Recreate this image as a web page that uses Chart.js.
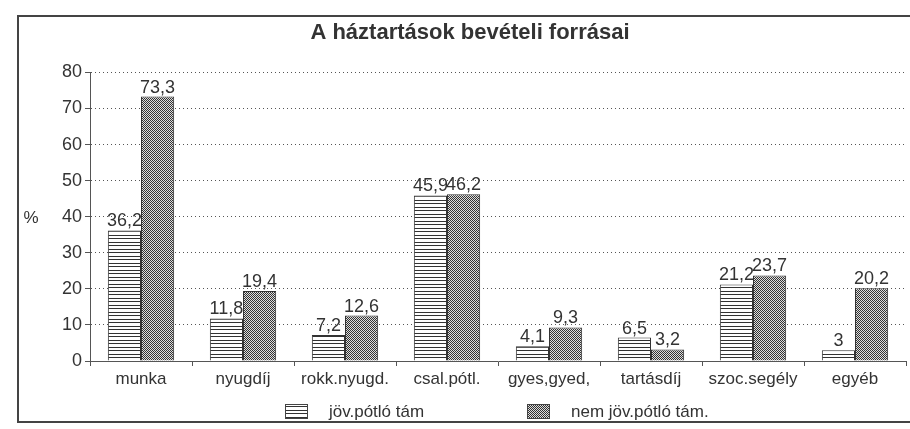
<!DOCTYPE html>
<html>
<head>
<meta charset="utf-8">
<script src="https://cdn.jsdelivr.net/npm/chart.js@4/dist/chart.umd.min.js"></script>
<style>
    body { margin: 0; background: #fff; overflow: hidden; }
    #keret { position: absolute; left: 17px; top: 15px; width: 960px; height: 404px; border: 2px solid #444; }
    canvas { position: absolute; left: 0; top: 0; }
</style>
</head>
<body>
<div id="keret"></div>
<canvas id="grafikon" width="910" height="429"></canvas>
<script>
// A háztartások bevételi forrásai (%)
var kategoriak = ['munka', 'nyugdíj', 'rokk.nyugd.', 'csal.pótl.', 'gyes,gyed,', 'tartásdíj', 'szoc.segély', 'egyéb'];
var jovPotlo = [36.2, 11.8, 7.2, 45.9, 4.1, 6.5, 21.2, 3];
var nemJovPotlo = [73.3, 19.4, 12.6, 46.2, 9.3, 3.2, 23.7, 20.2];
var sorozatNevek = ['jöv.pótló tám', 'nem jöv.pótló tám.'];
var yTickek = [0, 10, 20, 30, 40, 50, 60, 70, 80];

var betu = 'Arial, "Liberation Sans", sans-serif';

// mintázatok
function csikosMinta() {
    var c = document.createElement('canvas');
    c.width = 4; c.height = 7;
    var g = c.getContext('2d');
    g.fillStyle = '#fff';
    g.fillRect(0, 0, 4, 7);
    g.fillStyle = '#333';
    g.fillRect(0, 0, 4, 1);
    g.fillRect(0, 4, 4, 1);
    return g.createPattern(c, 'repeat');
}

function kockasMinta() {
    var c = document.createElement('canvas');
    c.width = 2; c.height = 2;
    var g = c.getContext('2d');
    g.fillStyle = '#ddd';
    g.fillRect(0, 0, 2, 2);
    g.fillStyle = '#333';
    g.fillRect(0, 0, 1, 1);
    g.fillRect(1, 1, 1, 1);
    return g.createPattern(c, 'repeat');
}

var mintak = [csikosMinta(), kockasMinta()];

function szam(v) {
    return String(v).replace('.', ',');
}

// feliratok, % jel, jelmagyarázat
var diszites = {
    id: 'diszites',
    afterDatasetsDraw: function(chart) {
        var ctx = chart.ctx;
        ctx.save();
        ctx.fillStyle = '#333';
        ctx.font = '18px ' + betu;
        ctx.textAlign = 'center';
        ctx.textBaseline = 'bottom';
        chart.data.datasets.forEach(function(ds, i) {
            chart.getDatasetMeta(i).data.forEach(function(bar, j) {
                ctx.fillText(szam(ds.data[j]), bar.x, bar.y);
            });
        });
        ctx.restore();
    },
    afterDraw: function(chart) {
        var ctx = chart.ctx;
        var y = chart.scales.y;
        ctx.save();
        ctx.fillStyle = '#333';
        ctx.font = '17px ' + betu;
        ctx.textAlign = 'center';
        ctx.textBaseline = 'middle';
        ctx.fillText('%', 31, y.getPixelForValue(40) + 2);

        // jelmagyarázat
        var helyek = [285, 527];
        ctx.textAlign = 'left';
        chart.data.datasets.forEach(function(ds, i) {
            var x = helyek[i];
            ctx.fillStyle = ds.backgroundColor;
            ctx.fillRect(x, 404, 22, 14);
            ctx.strokeStyle = '#444';
            ctx.lineWidth = 1;
            ctx.strokeRect(x + 0.5, 404.5, 22, 14);
            ctx.fillStyle = '#333';
            ctx.fillText(ds.label, x + 44, 412);
        });
        ctx.restore();
    }
};

var grafikon = new Chart(document.getElementById('grafikon').getContext('2d'), {
    type: 'bar',
    data: {
        labels: kategoriak,
        datasets: [{
            label: sorozatNevek[0],
            data: jovPotlo,
            backgroundColor: mintak[0],
            borderColor: '#333',
            borderWidth: 1
        }, {
            label: sorozatNevek[1],
            data: nemJovPotlo,
            backgroundColor: mintak[1],
            borderColor: '#333',
            borderWidth: 1
        }]
    },
    options: {
        responsive: false,
        animation: false,
        datasets: {
            bar: { categoryPercentage: 0.65, barPercentage: 1 }
        },
        layout: {
            padding: { left: 34, right: 4, top: 0, bottom: 0 }
        },
        plugins: {
            legend: { display: false },
            tooltip: { enabled: false },
            title: {
                display: true,
                text: 'A háztartások bevételi forrásai',
                color: '#333',
                font: { family: betu, size: 22, weight: 'bold' },
                padding: { top: 20, bottom: 26 }
            }
        },
        scales: {
            x: {
                afterFit: function(scale) { scale.height = 68; },
                grid: { drawOnChartArea: false, drawTicks: true, tickLength: 5, color: '#555', offset: true },
                border: { display: true, color: '#555', width: 1 },
                ticks: { color: '#333', font: { family: betu, size: 17 }, padding: 3, maxRotation: 0, autoSkip: false }
            },
            y: {
                min: 0,
                max: 80,
                afterFit: function(scale) { scale.width = 56; },
                afterBuildTicks: function(scale) {
                    scale.ticks = yTickek.map(function(v) { return { value: v }; });
                },
                grid: { color: '#555', lineWidth: 1, drawTicks: true, tickLength: 5 },
                border: { display: true, color: '#555', width: 1, dash: [1, 3] },
                ticks: { color: '#333', font: { family: betu, size: 18 }, padding: 3 }
            }
        }
    },
    plugins: [diszites]
});
</script>
</body>
</html>
